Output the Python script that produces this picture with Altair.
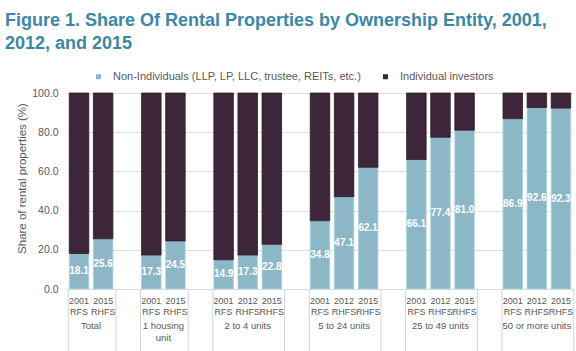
import altair as alt
import pandas as pd

# ---------------- data ----------------
groups = ["Total", "1 housing unit", "2 to 4 units", "5 to 24 units",
          "25 to 49 units", "50 or more units"]
group_labels = ["Total", "1 housing\nunit", "2 to 4 units", "5 to 24 units",
                "25 to 49 units", "50 or more units"]
surveys = [
    ["2001 RFS", "2015 RHFS"],
    ["2001 RFS", "2015 RHFS"],
    ["2001 RFS", "2012 RHFS", "2015 RHFS"],
    ["2001 RFS", "2012 RHFS", "2015 RHFS"],
    ["2001 RFS", "2012 RHFS", "2015 RHFS"],
    ["2001 RFS", "2012 RHFS", "2015 RHFS"],
]
non_individuals = [
    [18.1, 25.6],
    [17.3, 24.5],
    [14.9, 17.3, 22.8],
    [34.8, 47.1, 62.1],
    [66.1, 77.4, 81.0],
    [86.9, 92.6, 92.3],
]
series = ["Non-Individuals (LLP, LP, LLC, trustee, REITs, etc.)",
          "Individual investors"]
colors = ["#8cb7c7", "#3e263a"]
strokes = ["#a9d5e1", "#2c1a2a"]
y_ticks = [0, 20, 40, 60, 80, 100]

title_lines = ["Figure 1. Share Of Rental Properties by Ownership Entity, 2001,",
               "2012, and 2015"]

# ---------------- tables ----------------
slot_order = []
bar_rows, val_rows, grp_rows = [], [], []
for gi, g in enumerate(groups):
    keys = []
    for s, v in zip(surveys[gi], non_individuals[gi]):
        k = f"{g}|{s}"
        keys.append(k)
        slot_order.append(k)
        bar_rows.append({"slot": k, "series": series[0], "ord": 0, "value": v})
        bar_rows.append({"slot": k, "series": series[1], "ord": 1,
                         "value": round(100 - v, 1)})
        val_rows.append({"slot": k, "v": v, "mid": v / 2})
    n = len(keys)
    grp_rows.append({"first": keys[0], "last": keys[-1],
                     "mid": keys[n // 2] if n % 2 else keys[0],
                     "n": n, "label": group_labels[gi]})
    if gi < len(groups) - 1:
        slot_order.append(f"gap{gi}")

bars_df = pd.DataFrame(bar_rows)
vals_df = pd.DataFrame(val_rows)
grp_df = pd.DataFrame(grp_rows)

FONT = "Liberation Sans"
GRAY = "#595959"

xscale = alt.Scale(domain=slot_order, paddingInner=0.19, paddingOuter=0.095)
yscale = alt.Scale(domain=[0, 100], nice=False)

x_axis = alt.Axis(
    title=None, ticks=False, domain=False, grid=False, labelAngle=0,
    labelExpr="indexof(datum.value, 'gap') == 0 ? '' : split(split(datum.value, '|')[1], ' ')",
    labelFont=FONT, labelFontSize=9, labelColor=GRAY, labelLineHeight=11,
    labelPadding=7, labelOverlap=False,
)
y_axis = alt.Axis(values=y_ticks, format=".1f",
                  title="Share of rental properties (%)",
                  ticks=False, domain=False,
                  gridColor="#dedede", gridWidth=1,
                  labelFont=FONT, labelFontSize=10.5, labelColor=GRAY,
                  labelPadding=9,
                  titleFont=FONT, titleFontSize=11.5, titleColor=GRAY,
                  titleFontWeight="normal",
                  titleX=-45, titleY=85, titleAlign="center",
                  titleBaseline="middle", titleAngle=270)

bars = alt.Chart(bars_df).mark_bar(strokeWidth=0.8).encode(
    x=alt.X("slot:N", sort=slot_order, scale=xscale, axis=x_axis),
    y=alt.Y("value:Q", stack="zero", scale=yscale, axis=y_axis),
    color=alt.Color("series:N", sort=series,
                    scale=alt.Scale(domain=series, range=colors),
                    legend=alt.Legend(title=None, orient="none",
                                      direction="horizontal",
                                      legendX=26, legendY=-22,
                                      symbolType="square", symbolSize=25,
                                      symbolStrokeWidth=0,
                                      labelFont=FONT, labelFontSize=11,
                                      labelColor=GRAY, labelOffset=9,
                                      labelLimit=400,
                                      columnPadding=19, padding=0)),
    stroke=alt.Stroke("series:N", scale=alt.Scale(domain=series, range=strokes),
                      legend=None),
    order=alt.Order("ord:Q", sort="ascending"),
)

values = alt.Chart(vals_df).mark_text(
    color="white", font=FONT, fontSize=10, fontWeight="bold", baseline="middle"
).encode(
    x=alt.X("slot:N", sort=slot_order, scale=xscale, axis=x_axis),
    y=alt.Y("mid:Q", scale=yscale, axis=y_axis),
    text=alt.Text("v:Q", format=".1f"),
)

rule_left = alt.Chart(grp_df).mark_rule(color="#d4d4d4", strokeWidth=1, xOffset=-1).encode(
    x=alt.X("first:N", sort=slot_order, scale=xscale, axis=x_axis, bandPosition=0),
    y=alt.value(196), y2=alt.value(262),
)
rule_right = alt.Chart(grp_df).mark_rule(color="#d4d4d4", strokeWidth=1, xOffset=3).encode(
    x=alt.X("last:N", sort=slot_order, scale=xscale, axis=x_axis, bandPosition=1),
    y=alt.value(196), y2=alt.value(262),
)

glabel_kw = dict(font=FONT, fontSize=9.5, color=GRAY, baseline="top",
                 align="center", lineBreak="\n", lineHeight=12)
glabel3 = alt.Chart(grp_df).transform_filter("datum.n == 3").mark_text(**glabel_kw).encode(
    x=alt.X("mid:N", sort=slot_order, scale=xscale, axis=x_axis),
    y=alt.value(228), text="label:N",
)
glabel2 = alt.Chart(grp_df).transform_filter("datum.n == 2").mark_text(dx=2.3, **glabel_kw).encode(
    x=alt.X("first:N", sort=slot_order, scale=xscale, axis=x_axis, bandPosition=1),
    y=alt.value(228), text="label:N",
)

chart = alt.layer(bars, values, rule_left, rule_right, glabel3, glabel2).properties(
    width=506, height=196,
    autosize=alt.AutoSizeParams(type="none"),
    padding={"left": 67, "top": 93, "right": 3, "bottom": 62},
    title=alt.TitleParams(text=title_lines, anchor="start", frame="group",
                          font=FONT, fontSize=18, fontWeight="bold",
                          color="#3a88a5", dx=-62, offset=18, lineHeight=23),
).configure_view(stroke=None)

chart.save("out.html", embed_options={"renderer": "svg", "actions": False})
